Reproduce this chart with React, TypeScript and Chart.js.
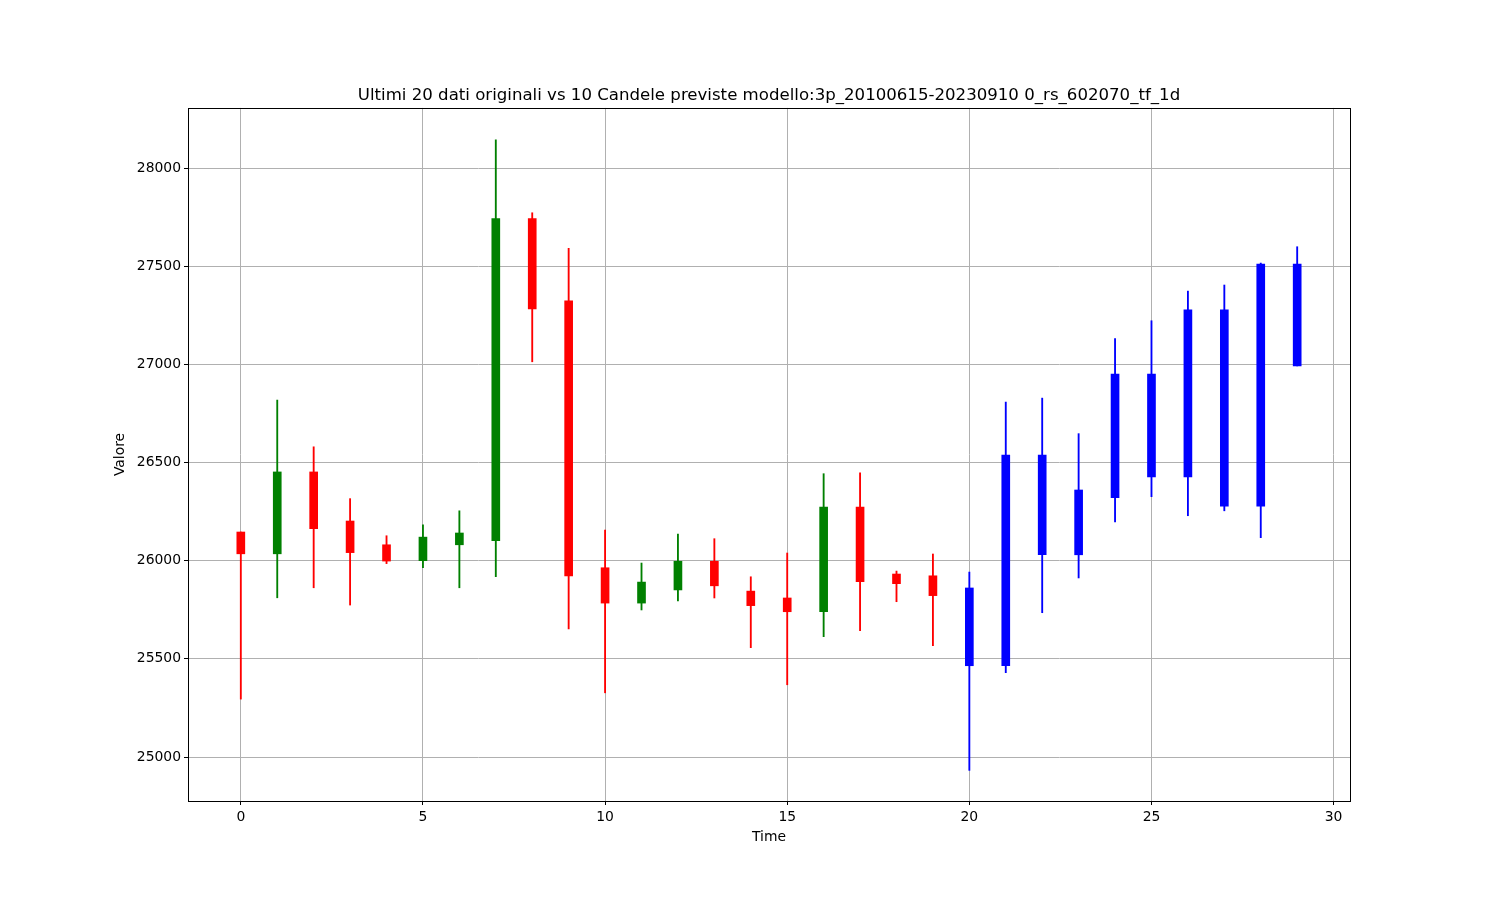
import React, { useEffect, useRef } from "react";
import { Chart, registerables } from "chart.js";

Chart.register(...registerables);

const TITLE =
  "Ultimi 20 dati originali vs 10 Candele previste modello:3p_20100615-20230910 0_rs_602070_tf_1d";
const X_LABEL = "Time";
const Y_LABEL = "Valore";

// Historical candles (0..19)
const histOpen = [26146, 26035, 26452, 26202, 26081, 26000, 26081, 26102, 27742, 27323, 25964, 25784, 25851, 25997, 25845, 25810, 25740, 26273, 25932, 25923];
const histClose = [26035, 26452, 26163, 26041, 25998, 26120, 26141, 27742, 27282, 25923, 25784, 25891, 25997, 25872, 25771, 25740, 26273, 25893, 25883, 25822];
const histHigh = [26146, 26818, 26580, 26316, 26127, 26183, 26254, 28143, 27772, 27591, 26156, 25988, 26136, 26112, 25918, 26039, 26443, 26448, 25947, 26034];
const histLow = [25295, 25811, 25862, 25774, 25985, 25964, 25862, 25918, 27013, 25652, 25327, 25749, 25795, 25810, 25557, 25368, 25613, 25643, 25791, 25567];

// Predicted candles (20..29)
const predOpen = [25861, 25465, 26538, 26030, 26321, 26951, 26426, 27277, 26278, 27511];
const predClose = [25465, 26538, 26030, 26360, 26951, 26426, 27277, 26278, 27511, 26992];
const predHigh = [25942, 26808, 26828, 26647, 27131, 27222, 27373, 27404, 27516, 27599];
const predLow = [24932, 25429, 25735, 25912, 26198, 26326, 26229, 26254, 26117, 26992];

const xTicks = [0, 5, 10, 15, 20, 25, 30];
const yTicks = [25000, 25500, 26000, 26500, 27000, 27500, 28000];

export default function App() {
  const ref = useRef<HTMLCanvasElement | null>(null);

  useEffect(() => {
    if (!ref.current) return;
    const opens = [...histOpen, ...predOpen];
    const closes = [...histClose, ...predClose];
    const highs = [...histHigh, ...predHigh];
    const lows = [...histLow, ...predLow];
    const nHist = histOpen.length;
    const colors = opens.map((o, i) =>
      i >= nHist ? "#0000ff" : closes[i] >= o ? "#008000" : "#ff0000"
    );

    const frame = {
      id: "frame",
      afterDraw(chart: any) {
        const { ctx, chartArea } = chart;
        ctx.save();
        ctx.strokeStyle = "#000";
        ctx.lineWidth = 1;
        ctx.strokeRect(
          Math.round(chartArea.left) + 0.5,
          Math.round(chartArea.top) + 0.5,
          Math.round(chartArea.right - chartArea.left),
          Math.round(chartArea.bottom - chartArea.top)
        );
        ctx.restore();
      },
    };

    const font = { family: "'DejaVu Sans', sans-serif", size: 13.9 };

    const chart = new Chart(ref.current, {
      type: "bar",
      data: {
        datasets: [
          {
            label: "body",
            data: opens.map((o, i) => ({ x: i, y: [o, closes[i]] })) as any,
            backgroundColor: colors,
            borderWidth: 0,
            borderSkipped: false,
            barThickness: 8,
            grouped: false,
          } as any,
          {
            label: "wick",
            data: lows.map((l, i) => ({ x: i, y: [l, highs[i]] })) as any,
            backgroundColor: colors,
            borderWidth: 0,
            borderSkipped: false,
            barThickness: 1.2,
            grouped: false,
          } as any,
        ],
      },
      options: {
        responsive: false,
        animation: false,
        layout: { padding: { left: 0, right: 150, top: 0, bottom: 0 } },
        plugins: {
          legend: { display: false },
          tooltip: { enabled: false },
          title: {
            display: true,
            text: TITLE,
            fullSize: false,
            color: "#000",
            font: { family: "'DejaVu Sans', sans-serif", size: 16.6, weight: "normal" },
            padding: { top: 86, bottom: 2 },
          },
        },
        scales: {
          x: {
            type: "linear",
            offset: false,
            min: -1.45,
            max: 30.45,
            afterBuildTicks: (axis: any) => {
              axis.ticks = xTicks.map((v) => ({ value: v }));
            },
            afterFit: (scale: any) => {
              scale.height = 99;
            },
            grid: {
              offset: false,
              color: "#b0b0b0",
              lineWidth: 1,
              drawTicks: true,
              tickLength: 4,
              tickColor: "#000",
              tickWidth: 1,
            },
            border: { display: false },
            ticks: {
              color: "#000",
              font,
              padding: 4,
              maxRotation: 0,
              autoSkip: false,
              callback: (v: any) => String(v),
            },
            title: {
              display: true,
              text: X_LABEL,
              color: "#000",
              font,
              padding: { top: 0, bottom: 54 },
            },
          },
          y: {
            type: "linear",
            min: 24776,
            max: 28306,
            afterBuildTicks: (axis: any) => {
              axis.ticks = yTicks.map((v) => ({ value: v }));
            },
            afterFit: (scale: any) => {
              scale.width = 188;
            },
            grid: {
              color: "#b0b0b0",
              lineWidth: 1,
              drawTicks: true,
              tickLength: 4,
              tickColor: "#000",
              tickWidth: 1,
            },
            border: { display: false },
            ticks: {
              color: "#000",
              font,
              padding: 3,
              autoSkip: false,
              callback: (v: any) => String(v),
            },
            title: {
              display: true,
              text: Y_LABEL,
              color: "#000",
              font,
              padding: { top: 112, bottom: 0 },
            },
          },
        },
      } as any,
      plugins: [frame],
    });
    return () => chart.destroy();
  }, []);

  return (
    <div style={{ position: "absolute", left: 0, top: 0, width: 1500, height: 900, background: "#fff" }}>
      <canvas ref={ref} width={1500} height={900} style={{ width: 1500, height: 900 }} />
    </div>
  );
}
